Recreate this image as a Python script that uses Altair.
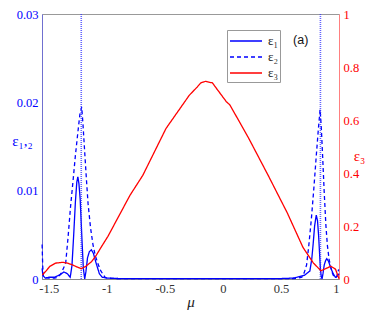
import altair as alt
import pandas as pd

# ---- data ----
mu1 = [-1.557, -1.55, -1.53, -1.50, -1.45, -1.40, -1.37, -1.34, -1.315, -1.30, -1.285, -1.27, -1.258,
       -1.249, -1.24, -1.229, -1.215, -1.202, -1.19, -1.18, -1.166, -1.15, -1.133, -1.115, -1.092,
       -1.064, -1.04, -1.00, -0.9, 0.5, 0.6, 0.64, 0.70, 0.749, 0.765, 0.777, 0.79, 0.804, 0.815,
       0.824, 0.833, 0.840, 0.847, 0.854, 0.862, 0.873, 0.885, 0.895, 0.91, 0.928, 0.95, 0.969,
       0.985, 1.0]
eps1 = [0.0012, 0.0004, 0.0001, 0.0002, 0.0002, 0.0005, 0.0008, 0.0006, 0.0002, 0.0015, 0.0050,
        0.0088, 0.0110, 0.01156, 0.0108, 0.0090, 0.0048, 0.0012, 0.0000, 0.0008, 0.0024, 0.0031,
        0.0033, 0.0029, 0.0018, 0.0006, 0.0002, 0.0001, 0.00005, 0.00005, 0.0001, 0.0002, 0.0004,
        0.0009, 0.0022, 0.0039, 0.0060, 0.00723, 0.0066, 0.0050, 0.0028, 0.0011, 0.0003, 0.0000,
        0.0006, 0.0016, 0.0021, 0.0023, 0.0020, 0.0013, 0.0006, 0.0002, 0.0003, 0.0006]

mu2 = [-1.557, -1.552, -1.545, -1.50, -1.45, -1.42, -1.39, -1.354, -1.335, -1.312, -1.29, -1.271,
       -1.25, -1.232, -1.216, -1.205, -1.188, -1.175, -1.161, -1.14, -1.119, -1.10, -1.078, -1.055,
       -1.036, -1.015, -0.995, -0.9, 0.6, 0.65, 0.68, 0.70, 0.721, 0.74, 0.762, 0.783, 0.804, 0.82,
       0.837, 0.848, 0.859, 0.872, 0.887, 0.90, 0.915, 0.93, 0.942, 0.955, 0.969, 0.98, 0.99, 0.997]
eps2 = [0.0039, 0.0015, 0.0002, 0.0001, 0.0001, 0.0002, 0.0007, 0.0018, 0.0045, 0.0082, 0.0112,
        0.0139, 0.0165, 0.0186, 0.01947, 0.0175, 0.0139, 0.0112, 0.0085, 0.0058, 0.0039, 0.0027,
        0.0018, 0.0010, 0.0006, 0.0002, 0.0001, 0.00005, 0.00005, 0.0001, 0.0002, 0.0007, 0.0016,
        0.0038, 0.0068, 0.0102, 0.0139, 0.0166, 0.0192, 0.0170, 0.0139, 0.0100, 0.0061, 0.0038,
        0.0022, 0.0013, 0.0007, 0.0003, 0.0001, 0.0003, 0.0007, 0.0011]

mu3 = [-1.555, -1.52, -1.49, -1.44, -1.38, -1.34, -1.30, -1.26, -1.22, -1.18, -1.13, -1.09, -1.05,
       -0.99, -0.80, -0.69, -0.49, -0.29, -0.22, -0.19, -0.15, -0.09, -0.05, 0.03, 0.06, 0.22, 0.39,
       0.555, 0.69, 0.78, 0.845, 0.89, 0.93, 0.97, 1.0]
eps3 = [0.015, 0.032, 0.048, 0.060, 0.063, 0.060, 0.054, 0.046, 0.039, 0.048, 0.066, 0.090, 0.119,
        0.161, 0.316, 0.391, 0.568, 0.693, 0.725, 0.740, 0.746, 0.740, 0.716, 0.669, 0.657, 0.533,
        0.391, 0.249, 0.119, 0.060, 0.031, 0.040, 0.048, 0.037, 0.001]

names = ["ε₁", "ε₂", "ε₃"]
vlines = [-1.22, 0.84]
note_mu, note_val, note_text = [0.67], [0.0271], ["(a)"]

x_ticks = [-1.5, -1, -0.5, 0, 0.5, 1]
yl_ticks = [0, 0.01, 0.02, 0.03]
yr_ticks = [0, 0.2, 0.4, 0.6, 0.8, 1]

# ---- tables ----
df12 = pd.concat([
    pd.DataFrame({"mu": mu1, "val": eps1, "series": names[0]}),
    pd.DataFrame({"mu": mu2, "val": eps2, "series": names[1]}),
])
df3 = pd.DataFrame({"mu": mu3, "val": eps3, "series": names[2]})
dfv = pd.DataFrame({"mu": vlines})
dft = pd.DataFrame({"mu": note_mu, "val": note_val, "t": note_text})

BLUE = "#0000ff"
RED = "#ff0000"
SERIF = "Liberation Serif"
W, H = 297, 265

xscale = alt.Scale(domain=[-1.558, 1], nice=False, zero=False)
xaxis = alt.Axis(values=x_ticks, labelExpr="datum.value + ''", title="μ", titleFontStyle="italic",
                 titleFont=SERIF, titleFontSize=15, titleFontWeight="normal", titleColor="#222",
                 labelFont=SERIF, labelFontSize=12.5, labelColor="#333", ticks=False, grid=False,
                 domainColor="#888", labelPadding=3, titlePadding=0)

color = alt.Color("series:N", scale=alt.Scale(domain=names, range=[BLUE, BLUE, RED]),
                  legend=alt.Legend(title=None, orient="none", legendX=185, legendY=16,
                                    symbolType="M-1,0H3", symbolSize=256, symbolStrokeWidth=1.5,
                                    labelOffset=21, labelFont=SERIF, labelFontSize=13,
                                    labelColor="#222", strokeColor="#999", fillColor="white",
                                    padding=2, rowPadding=0))
dash = alt.StrokeDash("series:N", scale=alt.Scale(domain=names, range=[[1, 0], [4, 3], [1, 0]]),
                      legend=alt.Legend(title=None))

left = alt.Chart(df12).mark_line(strokeWidth=1.3).encode(
    x=alt.X("mu:Q", scale=xscale, axis=xaxis),
    y=alt.Y("val:Q", scale=alt.Scale(domain=[0, 0.03], nice=False),
            axis=alt.Axis(orient="left", values=yl_ticks, labelExpr="datum.value + ''",
                          labelColor=BLUE, labelFont=SERIF, labelFontSize=12.5, ticks=False,
                          grid=False, domainColor="#7070d0", labelPadding=4,
                          title="ε₁,₂", titleColor=BLUE, titleFont=SERIF, titleFontSize=15,
                          titleFontWeight="normal", titleAngle=0, titleAlign="center",
                          titleBaseline="middle", titleX=-20, titleY=126)),
    color=color,
    strokeDash=dash,
    order="mu:Q",
)
rules = alt.Chart(dfv).mark_rule(color="#3030ff", strokeDash=[1, 1], strokeWidth=1.6,
                                 opacity=0.75).encode(x=alt.X("mu:Q", scale=xscale))
note = alt.Chart(dft).mark_text(font="Liberation Sans", fontSize=12.5, color="#111").encode(
    x=alt.X("mu:Q", scale=xscale), y=alt.Y("val:Q"), text="t:N")

right = alt.Chart(df3).mark_line(strokeWidth=1.3).encode(
    x=alt.X("mu:Q", scale=xscale),
    y=alt.Y("val:Q", scale=alt.Scale(domain=[0, 1], nice=False),
            axis=alt.Axis(orient="right", values=yr_ticks, labelExpr="datum.value + ''",
                          labelColor=RED, labelFont=SERIF, labelFontSize=12.5, ticks=False,
                          grid=False, domainColor="#ff8080", labelPadding=4,
                          title="ε₃", titleColor=RED, titleFont=SERIF, titleFontSize=15,
                          titleFontWeight="normal", titleAngle=0, titleAlign="center",
                          titleBaseline="middle", titleX=20, titleY=141)),
    color=color,
    strokeDash=dash,
    order="mu:Q",
)

chart = alt.layer(alt.layer(left, rules, note), right).resolve_scale(y="independent").properties(
    width=W, height=H,
    autosize=alt.AutoSizeParams(type="none"),
    padding={"left": 34, "top": 6, "right": 27, "bottom": 32},
).configure_view(stroke="#999", strokeWidth=1)

chart.save("out.html", embed_options={"renderer": "svg", "actions": False})
